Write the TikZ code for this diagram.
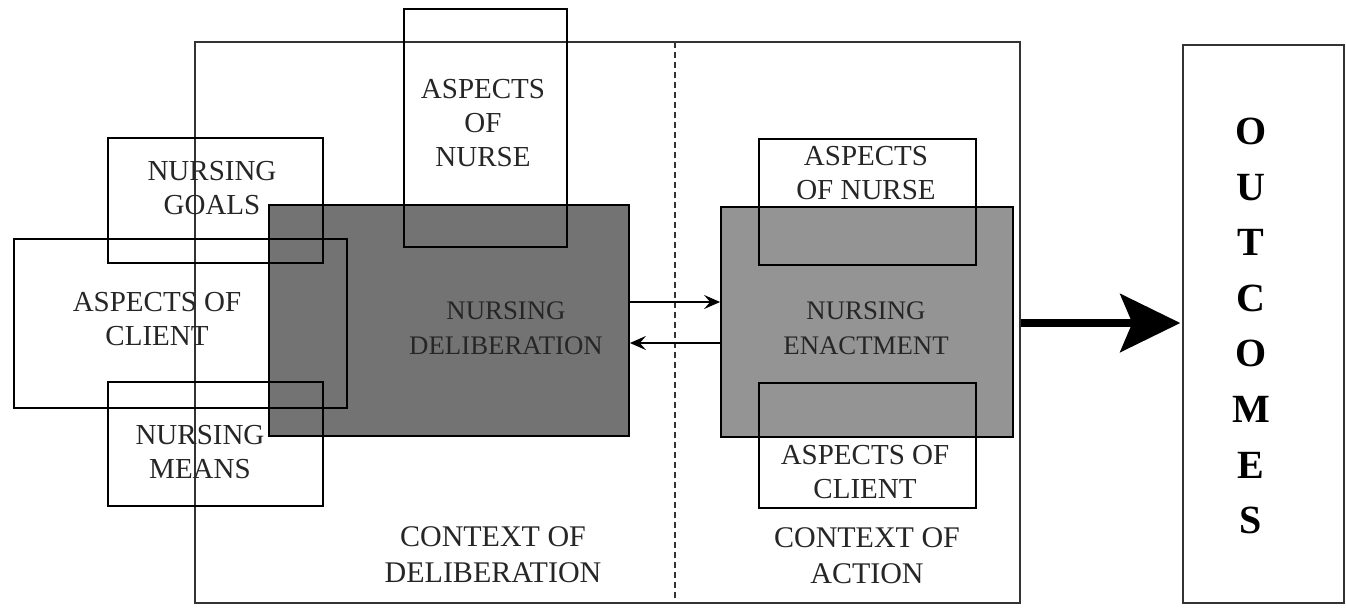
\documentclass[tikz,border=0pt]{standalone}
\usepackage{fontspec}
\setmainfont{Liberation Serif}
\usetikzlibrary{arrows.meta,fit}
\begin{document}
\begin{tikzpicture}[x=0.5pt,y=-0.5pt,
  frame/.style={draw=black!80, line width=0.7pt, inner sep=0pt},
  outline/.style={draw=black, line width=0.9pt, inner sep=0pt},
  darkbox/.style={outline, fill=black!55},
  midbox/.style={outline, fill=black!42},
  label/.style={align=center, font=\fontsize{14.5}{17}\selectfont, text=black!85, inner sep=0pt},
  corelabel/.style={align=center, font=\fontsize{13.4}{17.5}\selectfont, text=black!85, inner sep=0pt},
  biglabel/.style={align=center, font=\fontsize{15}{18}\selectfont, text=black!85, inner sep=0pt},
  link/.style={line width=0.9pt, -{Stealth[length=8pt,width=7pt,inset=3pt]}},
  flow/.style={line width=4pt, -{Stealth[length=30pt,width=29pt,inset=6pt]}}
]
\useasboundingbox (0,0) rectangle (1346,607);
\fill[white] (0,0) rectangle (1346,607);

% contexts of deliberation and action
\node[frame, fit={(195,42) (1020,603)}] (ctx) {};
\coordinate (dtop) at (675,42);
\coordinate (dbot) at (675,603);
\draw[black!80, line width=0.6pt, dash pattern=on 3pt off 2pt] (dtop) -- (dbot);

% shaded core boxes
\node[darkbox, fit={(269,205) (629,436)}] (delib) {};
\node[midbox, fit={(721,207) (1013,437)}] (enact) {};

% overlapping aspect boxes
\node[outline, fit={(404,9) (567,247)}] (nurseL) {};
\node[outline, fit={(108,138) (323,263)}] (goals) {};
\node[outline, fit={(14,239) (347,408)}] (clientL) {};
\node[outline, fit={(108,382) (323,506)}] (means) {};
\node[outline, fit={(759,139) (976,265)}] (nurseR) {};
\node[outline, fit={(759,383) (976,508)}] (clientR) {};

% outcomes column
\node[frame, fit={(1183,45) (1344,603)}] (outc) {};

% labels
\node[label] (tNurseL) at (483,123) {ASPECTS\\OF\\NURSE};
\node[label] (tGoals) at (212,188) {NURSING\\GOALS};
\node[label] (tClientL) at (157,319) {ASPECTS OF\\CLIENT};
\node[label] (tMeans) at (200,452) {NURSING\\MEANS};
\node[corelabel] (tDelib) at (506,328) {NURSING\\DELIBERATION};
\node[corelabel] (tEnact) at (866,328) {NURSING\\ENACTMENT};
\node[label] (tNurseR) at (866,173) {ASPECTS\\OF NURSE};
\node[label] (tClientR) at (865,472) {ASPECTS OF\\CLIENT};
\node[biglabel] (tCtxD) at (493,555) {CONTEXT OF\\DELIBERATION};
\node[biglabel] (tCtxA) at (867,556) {CONTEXT OF\\ACTION};
\node[align=center, inner sep=0pt, font=\bfseries\fontsize{20}{27.8}\selectfont] (tOut) at (1251,326)
  {O\\U\\T\\C\\O\\M\\E\\S};

% exchanges between deliberation and enactment
\coordinate (upper) at (0,302);
\coordinate (lower) at (0,343);
\draw[link] (delib.east |- upper) -- (enact.west |- upper);
\draw[link] (enact.west |- lower) -- (delib.east |- lower);

% result flow
\coordinate (mainflow) at (0,323);
\draw[flow] (ctx.east |- mainflow) -- ([xshift=-1pt]outc.west |- mainflow);
\end{tikzpicture}
\end{document}
